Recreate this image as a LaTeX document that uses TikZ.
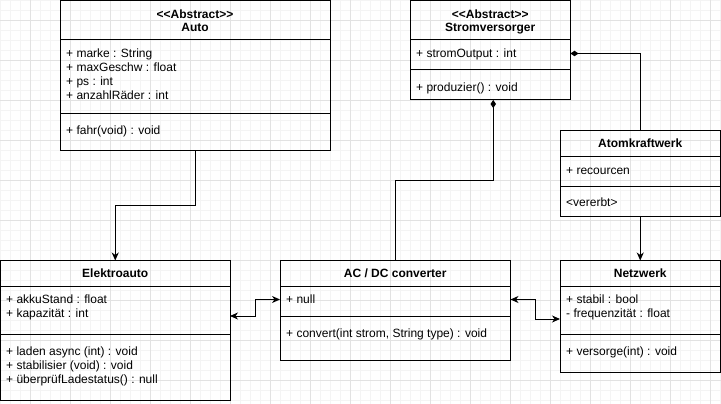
\documentclass[tikz,border=0pt]{standalone}
\usepackage{fontspec}
\setmainfont{Liberation Sans}[Ligatures=TeXOff]
\usetikzlibrary{arrows.meta}

\definecolor{gridminor}{HTML}{F4F4F4}
\definecolor{gridmajor}{HTML}{E2E2E2}

\tikzset{
  cls/.style={draw, line width=1pt, rectangle, inner sep=0pt, outer sep=0pt, anchor=north west},
  sep/.style={line width=1pt},
  ttl/.style={font=\fontsize{12}{14}\selectfont\bfseries, anchor=base, inner sep=0pt},
  mem/.style={font=\fontsize{12}{14}\selectfont, anchor=base west, inner sep=0pt},
  conn/.style={line width=1pt},
  arr/.style={conn, -{Stealth[length=8pt,width=7pt,inset=2.5pt]}},
  both/.style={conn, {Stealth[length=8pt,width=7pt,inset=2.5pt]}-{Stealth[length=8pt,width=7pt,inset=2.5pt]}},
  comp/.style={conn, -{Diamond[length=8pt,width=5.5pt]}},
}

\begin{document}
\begin{tikzpicture}[x=1pt, y=-1pt]
  \useasboundingbox (0,0) rectangle (721,404);

  % background grid
  \begin{scope}
    \clip (0,0) rectangle (721,404);
    \foreach \x in {0,10,...,720} \draw[gridminor, line width=0.8pt] (\x,0) -- (\x,404);
    \foreach \y in {0,10,...,400} \draw[gridminor, line width=0.8pt] (0,\y) -- (721,\y);
    \foreach \x in {30,70,...,710} \draw[gridmajor, line width=0.8pt] (\x,0) -- (\x,404);
    \foreach \y in {20,60,...,380} \draw[gridmajor, line width=0.8pt] (0,\y) -- (721,\y);
  \end{scope}

  % ---------- Auto ----------
  \node[cls, minimum width=270pt, minimum height=149.5pt] (auto) at (60,0.5) {};
  \draw[sep] (auto.west |- 0,40) -- (auto.east |- 0,40);
  \draw[sep] (auto.west |- 0,114) -- (auto.east |- 0,114);
  \node[ttl] (auto-st) at (195,18.5) {<<Abstract>>};
  \node[ttl] (auto-t) at (195,32) {Auto};
  \node[mem] (auto-a1) at (66,57.5) {+ marke : String};
  \node[mem] (auto-a2) at (66,71.5) {+ maxGeschw : float};
  \node[mem] (auto-a3) at (66,85.5) {+ ps : int};
  \node[mem] (auto-a4) at (66,99.5) {+ anzahlRäder : int};
  \node[mem] (auto-m1) at (66,135) {+ fahr(void) : void};

  % ---------- Stromversorger ----------
  \node[cls, minimum width=160.5pt, minimum height=99.5pt] (strom) at (410,0.5) {};
  \draw[sep] (strom.west |- 0,40) -- (strom.east |- 0,40);
  \draw[sep] (strom.west |- 0,70) -- (strom.east |- 0,70);
  \node[ttl] (strom-st) at (490.25,18.5) {<<Abstract>>};
  \node[ttl] (strom-t) at (490.25,32) {Stromversorger};
  \node[mem] (strom-a1) at (416,57.5) {+ stromOutput : int};
  \node[mem] (strom-m1) at (416,92) {+ produzier() : void};

  % ---------- Atomkraftwerk ----------
  \node[cls, minimum width=160.5pt, minimum height=86.5pt] (atom) at (560,130) {};
  \draw[sep] (atom.west |- 0,156) -- (atom.east |- 0,156);
  \draw[sep] (atom.west |- 0,186) -- (atom.east |- 0,186);
  \node[ttl] (atom-t) at (640.25,147.7) {Atomkraftwerk};
  \node[mem] (atom-a1) at (566,174) {+ recourcen};
  \node[mem] (atom-m1) at (566,206) {<vererbt>};

  % ---------- Elektroauto ----------
  \node[cls, minimum width=229.5pt, minimum height=139.5pt] (elektro) at (0.5,260.5) {};
  \draw[sep] (elektro.west |- 0,286) -- (elektro.east |- 0,286);
  \draw[sep] (elektro.west |- 0,334) -- (elektro.east |- 0,334);
  \node[ttl] (elektro-t) at (115.25,277.7) {Elektroauto};
  \node[mem] (elektro-a1) at (6,303.5) {+ akkuStand : float};
  \node[mem] (elektro-a2) at (6,317.5) {+ kapazität : int};
  \node[mem] (elektro-m1) at (6,355.3) {+ laden async (int) : void};
  \node[mem] (elektro-m2) at (6,369.3) {+ stabilisier (void) : void};
  \node[mem] (elektro-m3) at (6,383.3) {+ überprüfLadestatus() : null};

  % ---------- AC / DC converter ----------
  \node[cls, minimum width=230.5pt, minimum height=99.5pt] (acdc) at (280,260.5) {};
  \draw[sep] (acdc.west |- 0,286) -- (acdc.east |- 0,286);
  \draw[sep] (acdc.west |- 0,316) -- (acdc.east |- 0,316);
  \node[ttl] (acdc-t) at (395.25,277.7) {AC / DC converter};
  \node[mem] (acdc-a1) at (286,303.5) {+ null};
  \node[mem] (acdc-m1) at (286,337.3) {+ convert(int strom, String type) : void};

  % ---------- Netzwerk ----------
  \node[cls, minimum width=160.5pt, minimum height=111.5pt] (netz) at (560,260.5) {};
  \draw[sep] (netz.west |- 0,286) -- (netz.east |- 0,286);
  \draw[sep] (netz.west |- 0,334) -- (netz.east |- 0,334);
  \node[ttl] (netz-t) at (640.25,277.7) {Netzwerk};
  \node[mem] (netz-a1) at (566,303.5) {+ stabil : bool};
  \node[mem] (netz-a2) at (566,317.5) {- frequenzität : float};
  \node[mem] (netz-m1) at (566,355.3) {+ versorge(int) : void};

  % ---------- connectors ----------
  \draw[arr] (auto.south) -- ++(0,55) -| (elektro.north);
  \draw[comp] (acdc.north) -- ++(0,-80.5) -| ([xshift=3pt]strom.south);
  \draw[comp] (atom.north) |- ([yshift=-53pt]strom.north east);
  \draw[arr] (atom.south) -- (netz.north);
  \draw[both] ([yshift=-55.5pt]elektro.north east) -- ++(25,0) |- ([yshift=-39pt]acdc.north west);
  \draw[both] ([yshift=-39pt]acdc.north east) -- ++(24.5,0) |- ([yshift=-58.5pt]netz.north west);
\end{tikzpicture}
\end{document}
